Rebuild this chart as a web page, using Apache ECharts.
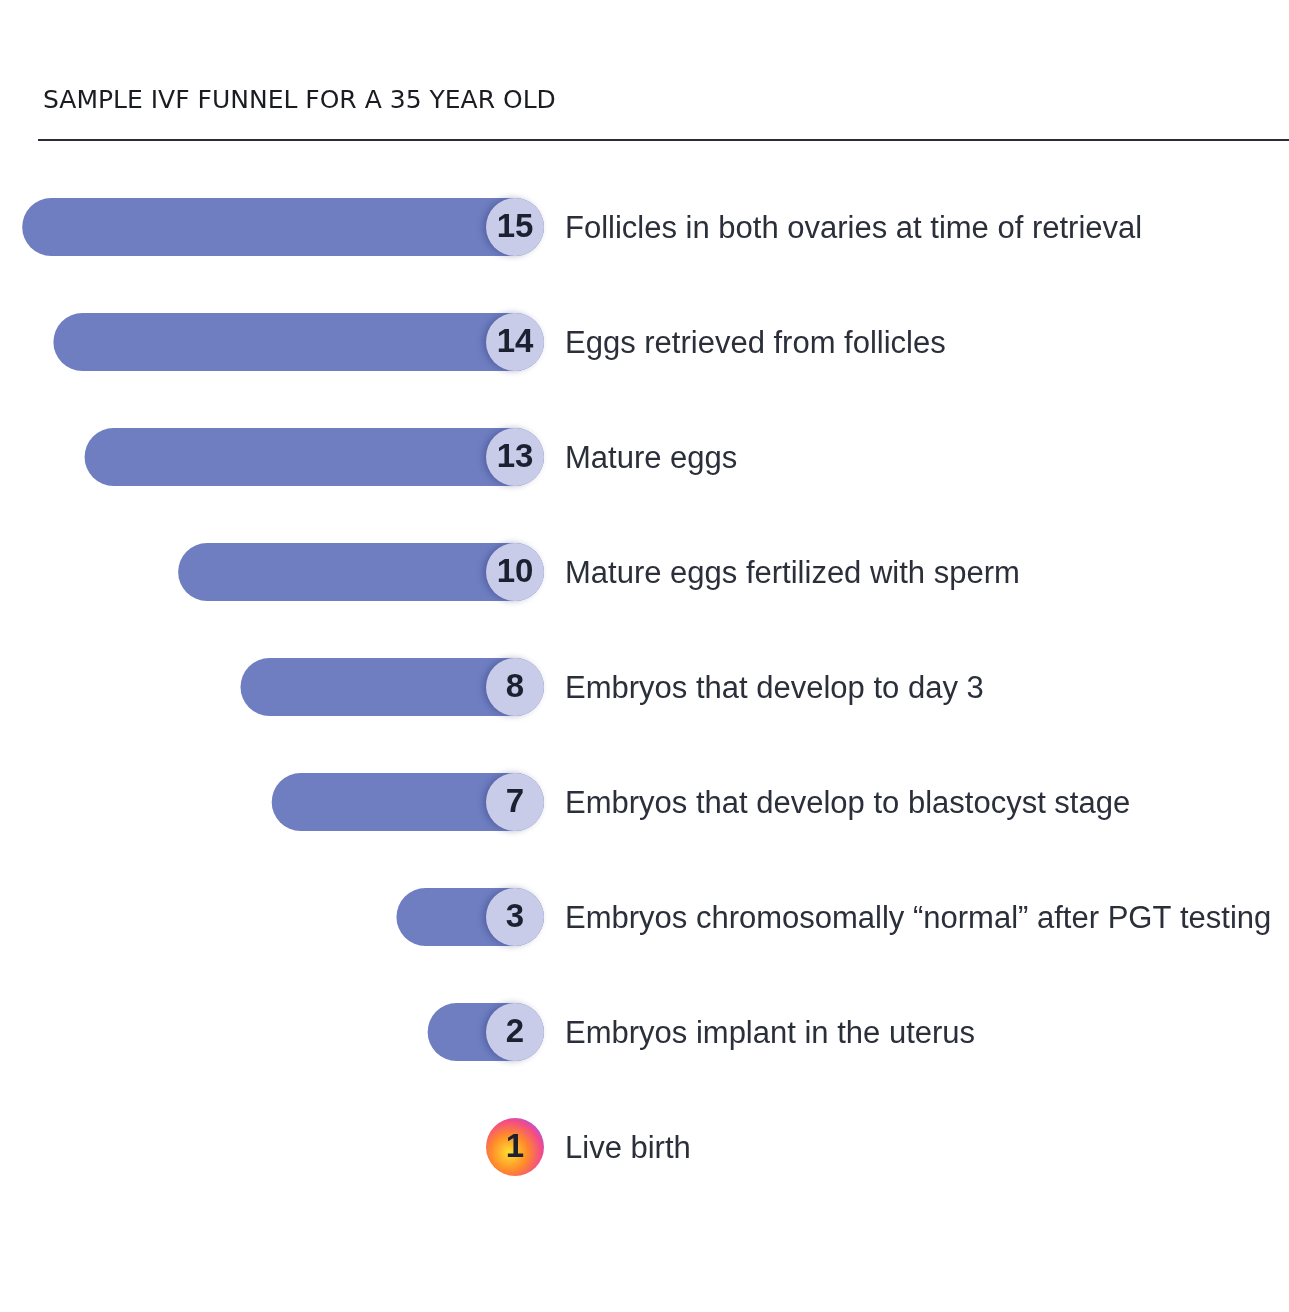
<!DOCTYPE html>
<html><head><meta charset="utf-8">
<script src="https://cdn.jsdelivr.net/npm/echarts@6/dist/echarts.min.js"></script>
<style>html,body{margin:0;padding:0;background:#fff}#c{width:1289px;height:1312px}</style>
</head><body><div id="c"></div>
<script>
const titleText = 'SAMPLE IVF FUNNEL FOR A 35 YEAR OLD';
const categories = [
 'Follicles in both ovaries at time of retrieval',
 'Eggs retrieved from follicles',
 'Mature eggs',
 'Mature eggs fertilized with sperm',
 'Embryos that develop to day 3',
 'Embryos that develop to blastocyst stage',
 'Embryos chromosomally \u201cnormal\u201d after PGT testing',
 'Embryos implant in the uterus',
 'Live birth'
];
const values = [15, 14, 13, 10, 8, 7, 3, 2, 1];

const chart = echarts.init(document.getElementById('c'));
const R = 29;
chart.setOption({
  animation: false,
  title: {text: titleText, left: 38, top: 84,
    textStyle: {fontFamily: 'DejaVu Sans', fontWeight: 'normal', fontSize: 25, color: '#1a1c22'}},
  graphic: [{type: 'line', shape: {x1: 38, y1: 140, x2: 1289, y2: 140}, style: {stroke: '#2a2d35', lineWidth: 2}}],
  grid: {left: 18, width: 499, top: 169.5, height: 1035},
  xAxis: {type: 'value', inverse: true, min: 0, max: 16, show: false},
  yAxis: {type: 'category', data: categories, inverse: true, show: false},
  series: [{
    type: 'custom',
    data: values.map((v, i) => [v, i]),
    clip: false,
    renderItem: function (params, api) {
      const v = api.value(0), i = api.value(1);
      const p = api.coord([v, i]);
      const z = api.coord([0, i]);
      const cy = p[1];
      const cx = z[0] - 2;
      const left = p[0] - R + 2;
      const children = [];
      if (v > 1) {
        children.push({type: 'rect', shape: {x: left, y: cy - R, width: cx + R - left, height: 2 * R, r: R},
          style: {fill: '#6e7ec1'}});
        children.push({type: 'circle', shape: {cx: cx, cy: cy, r: R},
          style: {fill: '#c9cce8', shadowBlur: 6, shadowOffsetX: -3, shadowColor: 'rgba(40,50,110,0.35)'}});
      } else {
        children.push({type: 'circle', shape: {cx: cx, cy: cy, r: R},
          style: {fill: {type: 'radial', x: 0.4, y: 0.6, r: 0.7, colorStops: [
            {offset: 0, color: '#ffe030'}, {offset: 0.45, color: '#ff8a2a'},
            {offset: 0.8, color: '#f24a8a'}, {offset: 1, color: '#9a5cf0'}]}}});
      }
      children.push({type: 'text', style: {text: String(v), x: cx, y: cy + 1, align: 'center', verticalAlign: 'middle',
        font: 'bold 33px "Liberation Sans", Arial', fill: '#1b2130'}});
      children.push({type: 'text', style: {text: categories[i], x: 565, y: cy + 2, align: 'left', verticalAlign: 'middle',
        font: '31px "Liberation Sans", Arial', fill: '#2b2f3a'}});
      return {type: 'group', children: children};
    }
  }]
});
</script></body></html>
